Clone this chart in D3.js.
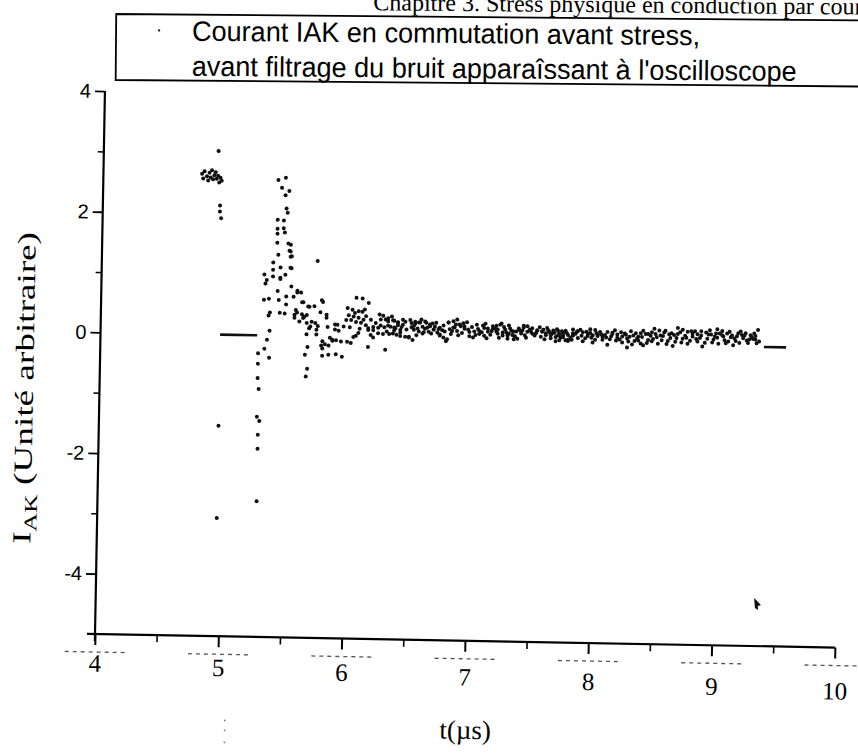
<!DOCTYPE html>
<html>
<head>
<meta charset="utf-8">
<script src="https://cdn.jsdelivr.net/npm/d3@7"></script>
<style>
  html, body { margin: 0; padding: 0; background: #fff; }
  svg { display: block; }
</style>
</head>
<body>
<svg width="858" height="753"></svg>
<script>
// ---- data (t in µs, IAK in arbitrary units) ----
const xTicks = [4, 5, 6, 7, 8, 9, 10];
const xMinor = [4.5, 5.5, 6.5, 7.5, 8.5, 9.5];
const yTicks = [-4, -2, 0, 2, 4];
const yMinor = [-3, -1, 1, 3];

// flat parts of the trace (before the switching and after the record end)
const flatLines = [
  { x0: 4.97, x1: 5.27, y: 0 },
  { x0: 9.38, x1: 9.56, y: -0.04 }
];

// points before the switching edge
const preTrigger = [
  [4.80, 2.66], [4.81, 2.58], [4.82, 2.70], [4.84, 2.62], [4.85, 2.55], [4.86, 2.68],
  [4.87, 2.60], [4.88, 2.72], [4.89, 2.57], [4.90, 2.64], [4.91, 2.69], [4.92, 2.58],
  [4.93, 2.63], [4.94, 2.52], [4.95, 2.60], [4.96, 2.55], [4.93, 3.04], [4.95, 2.14],
  [4.95, 2.04], [4.96, 1.93], [4.97, -1.51], [4.97, -3.04]
];

// the big oscillation right after switching
const spike = [
  [5.28, -0.47], [5.28, -0.71], [5.29, -0.89], [5.28, -1.35], [5.30, -1.42], [5.29, -1.65],
  [5.29, -1.88], [5.29, -2.75], [5.28, -0.30], [5.33, -0.22], [5.35, -0.07], [5.37, 0.08],
  [5.37, -0.37], [5.32, 0.59], [5.36, 0.61], [5.33, 0.86], [5.32, 1.01], [5.34, 0.92],
  [5.39, 1.21], [5.39, 1.09], [5.39, 0.98], [5.42, 1.92], [5.42, 1.77], [5.42, 1.69],
  [5.42, 1.54], [5.43, 1.34], [5.45, 1.13], [5.45, 0.96], [5.45, 0.94], [5.43, 0.74],
  [5.44, 0.59], [5.45, 0.38], [5.37, 0.38], [5.36, 0.33], [5.47, 1.91], [5.47, 1.78],
  [5.48, 2.33], [5.49, 2.11], [5.50, 2.04], [5.48, 1.71], [5.49, 1.01], [5.50, 0.65],
  [5.49, 0.37], [5.50, 0.52], [5.51, 1.53], [5.52, 1.41], [5.53, 1.31], [5.53, 1.51],
  [5.53, 1.40], [5.54, 1.32], [5.54, 1.12], [5.53, 1.13], [5.54, 0.82], [5.56, 0.65],
  [5.57, 0.35], [5.57, 0.30], [5.58, 0.43], [5.59, 0.75], [5.59, 0.72], [5.59, 0.39],
  [5.61, 0.24], [5.62, 0.72], [5.63, 0.56], [5.64, 0.56], [5.63, 0.36], [5.64, 0.30],
  [5.68, -0.18], [5.66, -0.31], [5.68, -0.54], [5.67, -0.67],
  [5.42, 2.58], [5.45, 2.45], [5.48, 2.62], [5.51, 2.40], [5.75, 1.25]
];

// damped ringing
const ringing = [
  [5.65, 0.32], [5.67, 0.35], [5.67, 0.22], [5.67, 0.03], [5.68, 0.49], [5.69, 0.49],
  [5.69, 0.13], [5.70, 0.16], [5.71, 0.24], [5.73, 0.50], [5.74, 0.22], [5.75, 0.11],
  [5.75, 0.03], [5.76, 0.17], [5.78, 0.40], [5.79, 0.60], [5.79, -0.15], [5.80, -0.20],
  [5.80, -0.08], [5.80, 0.57], [5.80, -0.32], [5.82, -0.13], [5.83, 0.36], [5.83, 0.31],
  [5.84, 0.16], [5.85, -0.15], [5.85, -0.30], [5.86, -0.02], [5.88, -0.07], [5.88, -0.05],
  [5.90, 0.20], [5.92, 0.20], [5.90, 0.12], [5.93, 0.10], [5.91, -0.06], [5.91, -0.29],
  [5.95, -0.08]
];

// noisy tail settling around zero
const tail = [
  [5.97, 0.17], [5.96, -0.33], [5.99, 0.28], [6.00, 0.48], [6.00, -0.08], [6.01, 0.36],
  [6.03, 0.28], [6.03, -0.10], [6.04, 0.45], [6.05, 0.34], [6.05, 0.00], [6.07, 0.65],
  [6.07, 0.25], [6.07, 0.02], [6.09, 0.43], [6.09, 0.32], [6.09, 0.07], [6.11, 0.24],
  [6.12, 0.64], [6.12, 0.42], [6.13, 0.29], [6.14, 0.46], [6.15, 0.20], [6.17, 0.57],
  [6.17, 0.15], [6.17, 0.12], [6.17, -0.16], [6.19, 0.29], [6.21, 0.12], [6.21, 0.17],
  [6.21, 0.00], [6.25, 0.16], [6.25, 0.07], [6.27, 0.30], [6.27, 0.20], [6.29, 0.36],
  [6.29, 0.06], [6.30, 0.17], [6.31, 0.30], [6.31, -0.20], [6.33, 0.32], [6.33, 0.27],
  [6.33, 0.20], [6.34, 0.06], [6.35, 0.18], [6.37, 0.29], [6.37, 0.07], [6.38, 0.12],
  [6.39, 0.16], [6.41, 0.26], [6.41, 0.21], [6.43, 0.13], [6.43, 0.03], [6.45, 0.30],
  [6.47, 0.02], [6.38, 0.28], [6.41, 0.25], [6.38, 0.17], [6.45, 0.22], [6.48, 0.14],
  [6.43, 0.09], [6.50, 0.02],
  [6.50, 0.01], [6.51, 0.30], [6.53, -0.03], [6.54, 0.14], [6.55, 0.27], [6.58, 0.11],
  [6.59, 0.26], [6.62, 0.10], [6.63, 0.28], [6.66, 0.11], [6.67, 0.23], [6.70, 0.15],
  [6.71, 0.20], [6.75, 0.18], [6.75, 0.07], [6.78, 0.02], [6.80, -0.04], [6.82, 0.27],
  [6.83, 0.16], [6.86, 0.29], [6.87, 0.19], [6.89, 0.32], [6.91, 0.24], [6.95, 0.21],
  [6.98, 0.16], [6.99, 0.05], [6.52, 0.25], [6.55, 0.24], [6.58, 0.26], [6.61, 0.19],
  [6.64, 0.26], [6.67, 0.20], [6.70, 0.15], [6.73, 0.10], [6.75, 0.05], [6.79, 0.12],
  [6.81, -0.01], [6.82, 0.27], [6.86, 0.19], [6.89, 0.13], [6.92, 0.21], [6.95, 0.17],
  [6.99, 0.12],
  [7.03, 0.13], [7.07, 0.09], [7.11, 0.06], [7.14, 0.18], [7.18, 0.22], [7.21, 0.23],
  [7.22, 0.10], [7.25, 0.27], [7.26, 0.07], [7.30, 0.07], [7.30, 0.02], [7.33, 0.15],
  [7.35, 0.01], [7.37, 0.14], [7.41, 0.11], [7.43, 0.21], [7.46, 0.23], [7.04, 0.07],
  [7.07, 0.14], [7.11, 0.19], [7.14, 0.13], [7.18, 0.18], [7.21, 0.13], [7.24, 0.25],
  [7.28, 0.17], [7.31, 0.10], [7.35, 0.14], [7.39, 0.19], [7.43, 0.24], [7.46, 0.14],
  [7.50, 0.20], [7.54, 0.17], [7.58, 0.15], [7.61, 0.12], [7.62, 0.21], [7.65, 0.09],
  [7.67, 0.17], [7.69, 0.06], [7.71, 0.16], [7.73, 0.05], [7.75, 0.13], [7.77, 0.01],
  [7.79, 0.10], [7.83, 0.09], [7.83, 0.19], [7.87, 0.17], [7.91, 0.15], [7.95, 0.12],
  [7.97, 0.20], [7.99, 0.10], [8.01, 0.19], [8.03, 0.09], [7.50, 0.11], [7.54, 0.16],
  [7.58, 0.15], [7.61, 0.09], [7.65, 0.04], [7.69, -0.01], [7.71, 0.09], [7.75, 0.06],
  [7.79, 0.02], [7.75, 0.09], [7.79, 0.00], [7.83, 0.13], [7.87, 0.05], [7.91, 0.00],
  [7.95, 0.09], [7.99, -0.02], [8.03, 0.11], [8.07, 0.03],
  [8.07, 0.08], [8.11, 0.16], [8.15, 0.13], [8.19, 0.12], [8.23, 0.09], [8.27, 0.06],
  [8.30, 0.18], [8.33, 0.02], [8.34, 0.15], [8.38, 0.15], [8.38, -0.02], [8.42, 0.14],
  [8.46, 0.11], [8.49, 0.23], [8.53, 0.20], [8.57, 0.17], [8.61, 0.14], [8.65, 0.13],
  [8.68, 0.25], [8.72, 0.22], [8.76, 0.19], [8.80, 0.16], [8.84, 0.15], [8.87, 0.20],
  [8.91, 0.18], [8.11, -0.05], [8.15, 0.15], [8.19, 0.07], [8.23, -0.01], [8.27, -0.09],
  [8.32, 0.11], [8.36, 0.03], [8.40, -0.05], [8.44, 0.14], [8.48, 0.06], [8.52, -0.02],
  [8.56, 0.11], [8.60, 0.03], [8.64, -0.05], [8.68, 0.15], [8.72, 0.07], [8.76, -0.01],
  [8.80, 0.11], [8.84, 0.03], [8.88, -0.05],
  [8.95, 0.15], [8.99, 0.17], [9.00, 0.24], [9.04, 0.21], [9.08, 0.17], [9.12, 0.14],
  [9.16, 0.13], [9.19, 0.21], [9.23, 0.18], [9.27, 0.15], [9.31, 0.14], [9.33, 0.24],
  [8.93, 0.15], [8.97, 0.07], [9.01, 0.00], [9.05, 0.12], [9.09, 0.04], [9.13, -0.02],
  [9.17, 0.18], [9.21, 0.10], [9.25, 0.02], [9.29, 0.09], [9.32, 0.02]
];

// further passes over the dense band, points missed the first time
const tailExtra = [
  [6.02, 0.16], [6.06, 0.40], [6.10, 0.14], [6.15, 0.35], [6.19, 0.04], [6.23, 0.24],
  [6.26, 0.38], [6.32, 0.10], [6.36, 0.35], [6.40, 0.05], [6.44, 0.18], [6.47, 0.27],
  [6.52, 0.18], [6.56, 0.05], [6.60, 0.31], [6.63, 0.16], [6.68, 0.08], [6.72, 0.26],
  [6.77, 0.14], [6.84, 0.08], [6.88, 0.24], [6.93, 0.10], [6.97, 0.28],
  [7.01, 0.20], [7.05, 0.24], [7.09, 0.12], [7.12, 0.26], [7.16, 0.08], [7.20, 0.18],
  [7.23, 0.03], [7.27, 0.21], [7.29, 0.12], [7.32, 0.19], [7.36, 0.06], [7.40, 0.16],
  [7.44, 0.08], [7.48, 0.18], [7.52, 0.08], [7.56, 0.22], [7.60, 0.02], [7.63, 0.17],
  [7.66, 0.12], [7.70, 0.19], [7.72, 0.11], [7.77, 0.17], [7.81, 0.06], [7.85, 0.12],
  [7.89, 0.19], [7.93, 0.05], [7.97, 0.14], [8.01, 0.03], [8.05, 0.16],
  [8.09, 0.11], [8.13, 0.04], [8.17, 0.19], [8.21, 0.04], [8.25, 0.14], [8.29, 0.09],
  [8.31, -0.04], [8.36, 0.09], [8.40, 0.19], [8.44, 0.04], [8.47, 0.17], [8.51, 0.09],
  [8.55, 0.04], [8.58, 0.20], [8.62, 0.08], [8.66, 0.02], [8.70, 0.18], [8.74, 0.12],
  [8.78, 0.04], [8.82, 0.20], [8.86, 0.09], [8.90, 0.01],
  [8.94, 0.22], [8.98, 0.12], [9.02, 0.17], [9.06, 0.06], [9.10, 0.20], [9.14, 0.09],
  [9.18, 0.02], [9.22, 0.14], [9.26, 0.08], [9.30, 0.18], [9.34, 0.05]
];

const tailExtra2 = [
  [6.54, 0.20], [6.57, 0.16], [6.61, 0.08], [6.65, 0.18], [6.69, 0.25], [6.74, 0.16],
  [6.78, 0.22], [6.85, 0.13], [6.90, 0.06], [6.94, 0.26],
  [7.02, 0.03], [7.06, 0.17], [7.10, 0.23], [7.13, 0.02], [7.17, 0.14], [7.22, 0.17],
  [7.26, 0.12], [7.31, 0.24], [7.34, 0.08], [7.38, 0.02], [7.42, 0.16], [7.45, 0.04],
  [7.49, 0.14], [7.53, 0.12], [7.57, 0.06], [7.59, 0.18], [7.64, 0.14], [7.68, 0.13],
  [7.72, 0.01], [7.74, 0.16], [7.78, 0.13], [7.82, 0.02], [7.86, 0.15], [7.90, 0.09],
  [7.94, 0.16], [7.98, 0.06], [8.02, 0.14], [8.06, 0.12],
  [8.10, 0.07], [8.14, 0.09], [8.18, 0.02], [8.22, 0.16], [8.26, 0.12], [8.28, 0.01],
  [8.35, 0.06], [8.39, 0.09], [8.43, -0.01], [8.47, 0.02], [8.50, 0.14], [8.54, 0.12],
  [8.59, -0.02], [8.63, 0.16], [8.67, 0.08], [8.71, 0.01], [8.75, 0.09], [8.79, 0.20],
  [8.83, 0.07], [8.87, 0.13], [8.92, 0.08],
  [8.96, 0.02], [9.00, 0.10], [9.04, 0.14], [9.07, 0.01], [9.11, 0.11], [9.15, 0.05],
  [9.20, 0.15], [9.24, 0.06], [9.28, 0.12], [9.31, 0.08]
];

const legendLines = [
  "Courant IAK en commutation avant stress,",
  "avant filtrage du bruit apparaîssant à l'oscilloscope"
];
const headerText = "Chapitre 3. Stress physique en conduction par courant";

// ---- layout ----
const svg = d3.select("svg");
const W = 858, H = 753;
const org = [95, 634];       // screen position of (4, -5)
const tilt = 1.05;           // the scan is slightly rotated
const rad = tilt * Math.PI / 180;

// screen point -> local coords inside the tilted group
function loc(sx, sy) {
  const dx = sx - org[0], dy = sy - org[1];
  return [dx * Math.cos(rad) + dy * Math.sin(rad), -dx * Math.sin(rad) + dy * Math.cos(rad)];
}

const x = d3.scaleLinear().domain([4, 10]).range([0, 740]);
const y = d3.scaleLinear().domain([-5, 4]).range([0, -543]);

svg.append("rect").attr("width", W).attr("height", H).attr("fill", "#fff");

const plot = svg.append("g")
  .attr("transform", `translate(${org[0]},${org[1]}) rotate(${tilt})`);

// scanner junk: dashed marks under the x axis
plot.append("g").selectAll("line")
  .data(xTicks)
  .enter()
  .append("line")
  .attr("x1", (d) => x(d) - 30)
  .attr("x2", (d) => x(d) + 32)
  .attr("y1", 18).attr("y2", 18)
  .attr("stroke", "#555")
  .attr("stroke-width", 1.3)
  .attr("stroke-dasharray", "4,4");

// x axis
const xAxis = plot.append("g")
  .call(d3.axisBottom(x).tickValues(xTicks).tickSize(11).tickPadding(16).tickFormat(d3.format("d")));
xAxis.select(".domain").remove();
xAxis.selectAll(".tick line").attr("stroke", "#000").attr("stroke-width", 2);
xAxis.selectAll("text")
  .attr("fill", "#000")
  .attr("transform", (d, i) => `translate(0,${(i - 3) * 2.4})`)
  .style("font-family", "'Liberation Serif', 'Times New Roman', serif")
  .style("font-size", "25px");

const xAxisMinor = plot.append("g")
  .call(d3.axisBottom(x).tickValues(xMinor).tickSize(7).tickFormat(""));
xAxisMinor.select(".domain").remove();
xAxisMinor.selectAll(".tick line").attr("stroke", "#000").attr("stroke-width", 1.6);

plot.append("line")
  .attr("x1", -8).attr("x2", x(10))
  .attr("y1", 0).attr("y2", 0)
  .attr("stroke", "#000").attr("stroke-width", 2.2);

// y axis
const yAxis = plot.append("g")
  .call(d3.axisLeft(y).tickValues(yTicks).tickSize(10).tickPadding(4).tickFormat(d3.format("d")));
yAxis.select(".domain").remove();
yAxis.selectAll(".tick line").attr("stroke", "#000").attr("stroke-width", 1.8);
yAxis.selectAll("text")
  .attr("fill", "#000")
  .text((d) => (d < 0 ? "-" + Math.abs(d) : d))
  .style("font-family", "'Liberation Sans', Arial, sans-serif")
  .style("font-size", "20px");

const yAxisMinor = plot.append("g")
  .call(d3.axisLeft(y).tickValues(yMinor).tickSize(6).tickFormat(""));
yAxisMinor.select(".domain").remove();
yAxisMinor.selectAll(".tick line").attr("stroke", "#000").attr("stroke-width", 1.5);

plot.append("line")
  .attr("x1", 0).attr("x2", 0)
  .attr("y1", y(4)).attr("y2", 7)
  .attr("stroke", "#000").attr("stroke-width", 2.2);

// flat segments of the trace
plot.append("g").selectAll("line")
  .data(flatLines)
  .enter()
  .append("line")
  .attr("x1", (d) => x(d.x0))
  .attr("x2", (d) => x(d.x1))
  .attr("y1", (d) => y(d.y))
  .attr("y2", (d) => y(d.y))
  .attr("stroke", "#111")
  .attr("stroke-width", 2.6);

// the sampled points
const allPoints = preTrigger.concat(spike, ringing, tail, tailExtra, tailExtra2);
plot.append("g").selectAll("circle")
  .data(allPoints)
  .enter()
  .append("circle")
  .attr("cx", (d) => x(d[0]))
  .attr("cy", (d) => y(d[1]))
  .attr("r", 2)
  .attr("fill", "#111");

// axis titles
const xt = loc(465, 739);
plot.append("text")
  .attr("x", xt[0]).attr("y", xt[1])
  .attr("text-anchor", "middle")
  .style("font-family", "'Liberation Serif', 'Times New Roman', serif")
  .style("font-size", "27px")
  .text("t(µs)");

const yt = loc(33, 388);
const ytitle = plot.append("text")
  .attr("transform", `translate(${yt[0]},${yt[1]}) rotate(-90)`)
  .attr("text-anchor", "middle")
  .attr("textLength", 312)
  .attr("lengthAdjust", "spacingAndGlyphs")
  .style("font-family", "'Liberation Serif', 'Times New Roman', serif")
  .style("font-size", "26px");
ytitle.append("tspan").text("I");
ytitle.append("tspan").attr("dy", 6).style("font-size", "18px").text("AK");
ytitle.append("tspan").attr("dy", -6).text(" (Unité arbitraire)");

// a stray blob from the scan near the bottom right
const blob = loc(757, 604);
plot.append("path")
  .attr("transform", `translate(${blob[0]},${blob[1]})`)
  .attr("d", "M-3,-6 L4,1 L1,2 L1,6 L-2,4 Z")
  .attr("fill", "#111");

// faint dots below the "5" label
plot.append("g").selectAll("circle")
  .data([84, 94, 106])
  .enter()
  .append("circle")
  .attr("cx", x(5) + 8)
  .attr("cy", (d) => d)
  .attr("r", 0.9)
  .attr("fill", "#777");

// ---- legend box and clipped page header ----
const legend = svg.append("g").attr("transform", "rotate(0.5, 116, 40)");

legend.append("text")
  .attr("x", 373).attr("y", 8)
  .style("font-family", "'Liberation Serif', 'Times New Roman', serif")
  .style("font-size", "24px")
  .text(headerText);

legend.append("path")
  .attr("d", "M870,14 L116,14 L116,80 L870,80")
  .attr("fill", "none")
  .attr("stroke", "#000")
  .attr("stroke-width", 1.8);

legend.append("circle")
  .attr("cx", 159).attr("cy", 30).attr("r", 1.2).attr("fill", "#222");

const legendWidths = [508, 605];
legend.selectAll("text.leg")
  .data(legendLines)
  .enter()
  .append("text")
  .attr("class", "leg")
  .attr("x", 192)
  .attr("y", (d, i) => 40 + i * 35)
  .attr("textLength", (d, i) => legendWidths[i])
  .attr("lengthAdjust", "spacingAndGlyphs")
  .style("font-family", "'Liberation Sans Narrow', 'Arial Narrow', 'Liberation Sans', sans-serif")
  .style("font-size", "28px")
  .text((d) => d);
</script>
</body>
</html>
